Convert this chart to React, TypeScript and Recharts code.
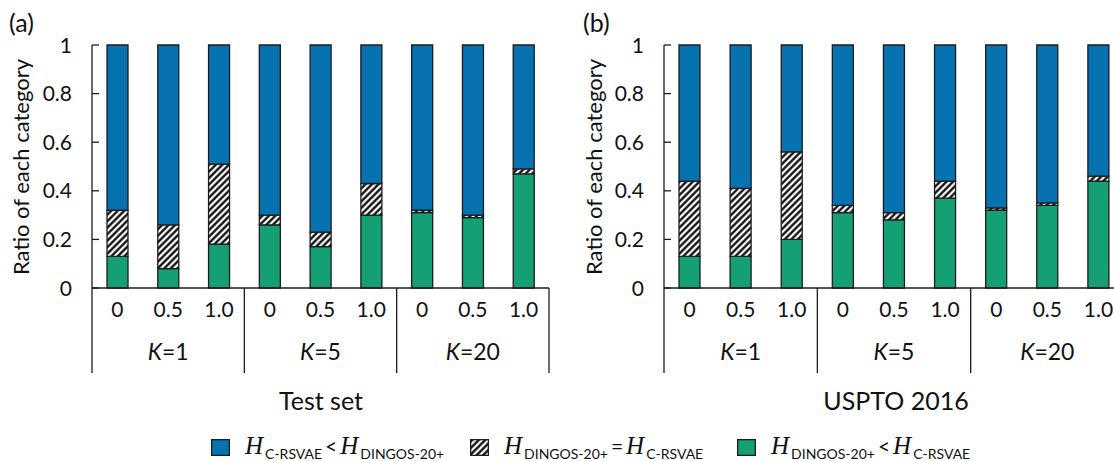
import React from 'react'
import { BarChart, Bar, XAxis, YAxis } from 'recharts'

// categories (weight of the two models) and K groups
const levels = ['0', '0.5', '1.0', '0', '0.5', '1.0', '0', '0.5', '1.0']
const groups = ['K=1', 'K=1', 'K=1', 'K=5', 'K=5', 'K=5', 'K=20', 'K=20', 'K=20']
const yTicks = [0, 0.2, 0.4, 0.6, 0.8, 1]

// (a) Test set
const testLower = [0.13, 0.08, 0.18, 0.26, 0.17, 0.3, 0.31, 0.29, 0.47]
const testEqual = [0.19, 0.18, 0.33, 0.04, 0.06, 0.13, 0.01, 0.01, 0.02]
const testUpper = [0.68, 0.74, 0.49, 0.7, 0.77, 0.57, 0.68, 0.7, 0.51]

// (b) USPTO 2016
const usptoLower = [0.13, 0.13, 0.2, 0.31, 0.28, 0.37, 0.32, 0.34, 0.44]
const usptoEqual = [0.31, 0.28, 0.36, 0.03, 0.03, 0.07, 0.01, 0.01, 0.02]
const usptoUpper = [0.56, 0.59, 0.44, 0.66, 0.69, 0.56, 0.67, 0.65, 0.54]

const BLUE = '#0672B0'
const GREEN = '#159F74'
const EDGE = '#1c1c1c'
const FONT = 'Lato, "Open Sans", sans-serif'
const SERIF = '"Liberation Serif", "DejaVu Serif", serif'

const renderYTick = (props: any) => {
  const { x, y, payload } = props
  const v = payload.value
  const label = v === 0 ? '0' : v === 1 ? '1' : v.toFixed(1)
  return (
    <g>
      <line x1={x + 20} x2={x + 27} y1={y} y2={y} stroke={EDGE} strokeWidth={1.3} />
      <text x={x} y={y} dy={7.5} textAnchor="end" fontSize={21} fill="#111" fontFamily={FONT}>{label}</text>
    </g>
  )
}

const renderLevelTick = (props: any) => {
  const { x, y, payload } = props
  return (
    <text x={x} y={y + 29} textAnchor="middle" fontSize={21} fill="#111" fontFamily={FONT}>{payload.value}</text>
  )
}

const makeGroupTick = (catW: number) => (props: any) => {
  const { x, y, index, payload } = props
  const left = x - catW / 2
  const right = x + catW / 2
  return (
    <g>
      {index % 3 === 0 && <line x1={left} x2={left} y1={y - 44} y2={y + 41} stroke={EDGE} strokeWidth={1.3} />}
      {index === levels.length - 1 && <line x1={right} x2={right} y1={y - 44} y2={y + 41} stroke={EDGE} strokeWidth={1.3} />}
      {index % 3 === 1 && (
        <text x={x} y={y + 28} textAnchor="middle" fontSize={23} fill="#111" fontFamily={FONT}>
          <tspan fontStyle="italic">K</tspan>{String(payload.value).slice(1)}
        </text>
      )}
    </g>
  )
}

function Hatch({ id }: { id: string }) {
  return (
    <pattern id={id} patternUnits="userSpaceOnUse" width={4.6} height={4.6} patternTransform="rotate(45)">
      <rect width={4.6} height={4.6} fill="#fff" />
      <line x1={2.3} y1={0} x2={2.3} y2={4.6} stroke="#000" strokeWidth={2.2} />
    </pattern>
  )
}

function Panel({ lower, equal, upper, plotW, hatchId }: { lower: number[]; equal: number[]; upper: number[]; plotW: number; hatchId: string }) {
  const data = levels.map((level, i) => ({ level, group: groups[i], lower: lower[i], equal: equal[i], upper: upper[i] }))
  const catW = plotW / levels.length
  return (
    <BarChart width={92 + plotW + 10} height={461} data={data} margin={{ top: 45, right: 10, left: 0, bottom: 85 }} barSize={21}>
      <defs>
        <Hatch id={hatchId} />
      </defs>
      <XAxis dataKey="level" height={44} interval={0} tickLine={false} tickSize={0} tickMargin={0}
        axisLine={{ stroke: EDGE, strokeWidth: 1.3 }} tick={renderLevelTick} />
      <XAxis xAxisId="group" dataKey="group" height={44} interval={0} tickLine={false} tickSize={0} tickMargin={0}
        axisLine={false} tick={makeGroupTick(catW)} />
      <XAxis xAxisId="top" orientation="top" dataKey="level" height={0} tick={false} tickLine={false}
        axisLine={{ stroke: EDGE, strokeWidth: 1.3 }} />
      <YAxis domain={[0, 1]} ticks={yTicks} width={92} interval={0} tickLine={false} tickSize={0} tickMargin={20}
        axisLine={{ stroke: EDGE, strokeWidth: 1.3 }} tick={renderYTick} />
      <YAxis yAxisId="r" orientation="right" domain={[0, 1]} width={0} tick={false} tickLine={false}
        axisLine={{ stroke: EDGE, strokeWidth: 1.3 }} />
      <Bar dataKey="lower" stackId="s" fill={GREEN} stroke={EDGE} strokeWidth={1.3} isAnimationActive={false} />
      <Bar dataKey="equal" stackId="s" fill={`url(#${hatchId})`} stroke={EDGE} strokeWidth={1.3} isAnimationActive={false} />
      <Bar dataKey="upper" stackId="s" fill={BLUE} stroke={EDGE} strokeWidth={1.3} isAnimationActive={false} />
    </BarChart>
  )
}

const H = () => <span style={{ fontFamily: SERIF, fontStyle: 'italic', fontSize: 25 }}>H</span>
const Sub = ({ children }: { children: string }) => (
  <span style={{ fontFamily: FONT, fontSize: 14, position: 'relative', top: 5, marginLeft: 2 }}>{children}</span>
)

function Swatch({ kind }: { kind: 'blue' | 'hatch' | 'green' }) {
  return (
    <svg width={19} height={17} style={{ display: 'block' }}>
      <defs>
        <Hatch id="legendHatch" />
      </defs>
      <rect x={0.65} y={0.65} width={17.7} height={15.7} stroke={EDGE} strokeWidth={1.3}
        fill={kind === 'blue' ? BLUE : kind === 'green' ? GREEN : 'url(#legendHatch)'} />
    </svg>
  )
}

function LegendItem({ left, kind, children }: { left: number; kind: 'blue' | 'hatch' | 'green'; children: React.ReactNode }) {
  return (
    <div style={{ position: 'absolute', left, top: 436, display: 'flex', alignItems: 'center', whiteSpace: 'nowrap', color: '#111' }}>
      <Swatch kind={kind} />
      <span style={{ marginLeft: 15, display: 'inline-flex', alignItems: 'baseline', fontFamily: FONT, fontSize: 21, lineHeight: '20px' }}>
        {children}
      </span>
    </div>
  )
}

const abs = (left: number, top: number, extra: React.CSSProperties = {}): React.CSSProperties => ({
  position: 'absolute', left, top, whiteSpace: 'nowrap', color: '#111', fontFamily: FONT, ...extra,
})

export default function App() {
  return (
    <div style={{ position: 'relative', width: 1114, height: 461, overflow: 'hidden', background: '#fff' }}>
      <style>{'body{margin:0}'}</style>
      <div style={{ position: 'absolute', left: 0, top: 0 }}>
        <Panel lower={testLower} equal={testEqual} upper={testUpper} plotW={457} hatchId="hatchA" />
      </div>
      <div style={{ position: 'absolute', left: 572, top: 0 }}>
        <Panel lower={usptoLower} equal={usptoEqual} upper={usptoUpper} plotW={460} hatchId="hatchB" />
      </div>

      <div style={abs(9, 7, { fontSize: 25 })}>(a)</div>
      <div style={abs(583, 7, { fontSize: 25 })}>(b)</div>

      <div style={abs(20, 167, { fontSize: 22, transform: 'translate(-50%, -50%) rotate(-90deg)' })}>Ratio of each category</div>
      <div style={abs(593, 167, { fontSize: 22, transform: 'translate(-50%, -50%) rotate(-90deg)' })}>Ratio of each category</div>

      <div style={abs(321, 400, { fontSize: 25, transform: 'translate(-50%, -50%)' })}>Test set</div>
      <div style={abs(896, 400, { fontSize: 25, transform: 'translate(-50%, -50%)' })}>USPTO 2016</div>

      <LegendItem left={211} kind="blue">
        <H /><Sub>C-RSVAE</Sub><span style={{ margin: '0 3px' }}>&lt;</span><H /><Sub>DINGOS-20+</Sub>
      </LegendItem>
      <LegendItem left={470} kind="hatch">
        <H /><Sub>DINGOS-20+</Sub><span style={{ margin: '0 3px' }}>=</span><H /><Sub>C-RSVAE</Sub>
      </LegendItem>
      <LegendItem left={737} kind="green">
        <H /><Sub>DINGOS-20+</Sub><span style={{ margin: '0 3px' }}>&lt;</span><H /><Sub>C-RSVAE</Sub>
      </LegendItem>
    </div>
  )
}
